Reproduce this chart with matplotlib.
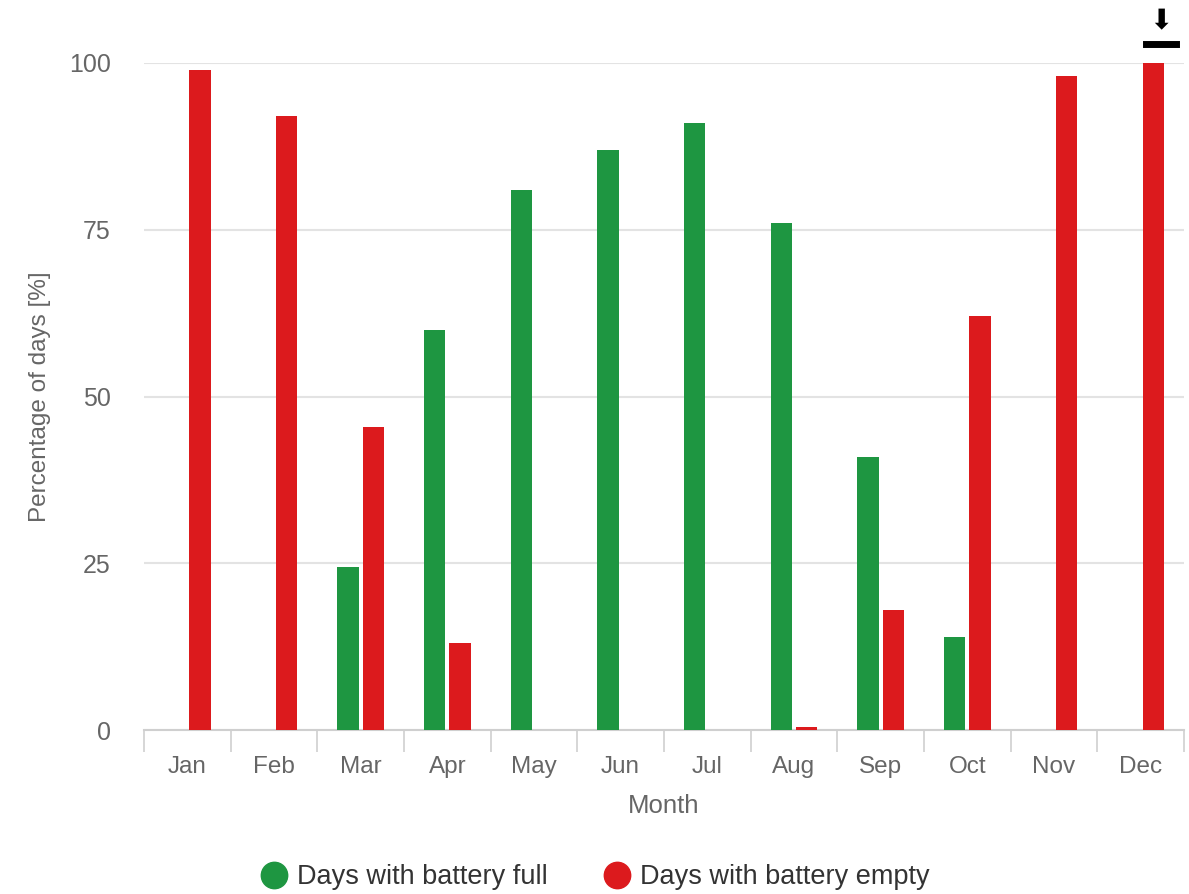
import matplotlib.pyplot as plt
import numpy as np
from matplotlib.lines import Line2D

months = ["Jan", "Feb", "Mar", "Apr", "May", "Jun", "Jul", "Aug", "Sep", "Oct", "Nov", "Dec"]
battery_full = [0, 0, 24.5, 60, 81, 87, 91, 76, 41, 14, 0, 0]
battery_empty = [99, 92, 45.5, 13, 0, 0, 0, 0.5, 18, 62, 98, 100]

GREEN = "#1e9641"
RED = "#dc1a1d"
TEXT = "#666666"

plt.rcParams["font.family"] = ["Liberation Sans", "DejaVu Sans"]

fig = plt.figure(figsize=(11.89, 8.94), dpi=100)
ax = fig.add_axes([144 / 1189, 1 - 730 / 894, 1040 / 1189, 667 / 894])

x = np.arange(len(months))
w = 0.245
off = 0.145
ax.bar(x - off, battery_full, width=w, color=GREEN, clip_on=False, zorder=3)
ax.bar(x + off, battery_empty, width=w, color=RED, clip_on=False, zorder=3)

ax.set_xlim(-0.5, len(months) - 0.5)
ax.set_ylim(0, 100)
ax.set_yticks([0, 25, 50, 75, 100])
ax.yaxis.grid(True, color="#e3e3e3", linewidth=1.5, zorder=0)
ax.tick_params(axis="y", length=0, pad=24, labelsize=18, labelcolor=TEXT)

# category ticks at the boundaries, labels in the middle
ax.set_xticks(np.arange(-0.5, len(months), 1.0))
ax.set_xticklabels([])
ax.set_xticks(x, minor=True)
ax.set_xticklabels(months, minor=True)
ax.tick_params(axis="x", which="major", length=16, width=1.2, color="#cfcfcf")
ax.tick_params(axis="x", which="minor", length=0, pad=19, labelsize=17.5, labelcolor=TEXT)

for side in ["top", "right", "left"]:
    ax.spines[side].set_visible(False)
ax.spines["bottom"].set_color("#cfcfcf")
ax.spines["bottom"].set_linewidth(1.5)

ax.set_xlabel("Month", fontsize=18.5, color=TEXT, labelpad=11)
ax.set_ylabel("Percentage of days [%]", fontsize=17.5, color=TEXT, labelpad=13)

handles = [
    Line2D([], [], marker="o", linestyle="", markersize=19, color=GREEN, label="Days with battery full"),
    Line2D([], [], marker="o", linestyle="", markersize=19, color=RED, label="Days with battery empty"),
]
fig.legend(handles=handles, loc="center", bbox_to_anchor=(0.5, 1 - 877 / 894), ncol=2,
           frameon=False, fontsize=19.5, labelcolor="#333333", handletextpad=0.3,
           columnspacing=2.0, handlelength=1.1, borderpad=0)

# download icon
fig.text(1161 / 1189, 1 - 21 / 894, "\u2b07", ha="center", va="center", fontsize=20,
         color="black", family="DejaVu Sans")
fig.add_artist(Line2D([1146 / 1189, 1176 / 1189], [1 - 44 / 894, 1 - 44 / 894],
                      color="black", linewidth=5))

fig.savefig("out.png", dpi=100)
